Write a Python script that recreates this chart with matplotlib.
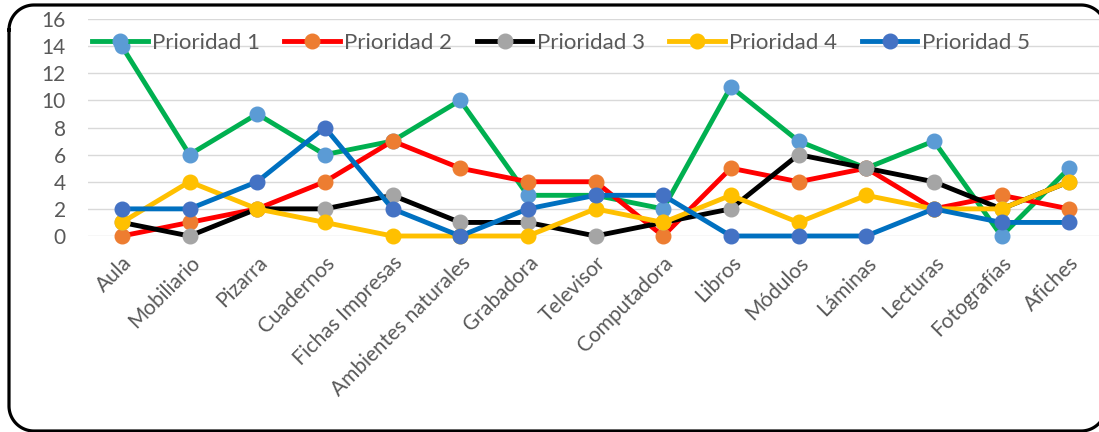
import matplotlib
matplotlib.use("Agg")
import matplotlib.pyplot as plt
import numpy as np

categories = ["Aula", "Mobiliario", "Pizarra", "Cuadernos", "Fichas Impresas",
              "Ambientes naturales", "Grabadora", "Televisor", "Computadora",
              "Libros", "Módulos", "Láminas", "Lecturas", "Fotografías", "Afiches"]
p1 = [14, 6, 9, 6, 7, 10, 3, 3, 2, 11, 7, 5, 7, 0, 5]
p2 = [0, 1, 2, 4, 7, 5, 4, 4, 0, 5, 4, 5, 2, 3, 2]
p3 = [1, 0, 2, 2, 3, 1, 1, 0, 1, 2, 6, 5, 4, 2, 4]
p4 = [1, 4, 2, 1, 0, 0, 0, 2, 1, 3, 1, 3, 2, 2, 4]
p5 = [2, 2, 4, 8, 2, 0, 2, 3, 3, 0, 0, 0, 2, 1, 1]
series_names = ["Prioridad 1", "Prioridad 2", "Prioridad 3", "Prioridad 4", "Prioridad 5"]
yticks = [0, 2, 4, 6, 8, 10, 12, 14, 16]

line_colors = ["#00B050", "#FF0000", "#000000", "#FFC000", "#0070C0"]
marker_colors = ["#5B9BD5", "#ED7D31", "#A5A5A5", "#FFC000", "#4472C4"]

plt.rcParams['font.family'] = ['Lato', 'DejaVu Sans']

W, H = 1099, 432
fig = plt.figure(figsize=(W / 100, H / 100), dpi=100)

x_left, x_right = 88, 1103
y_top, y_bot = 19, 236
ax = fig.add_axes([x_left / W, 1 - y_bot / H, (x_right - x_left) / W, (y_bot - y_top) / H])

xs = list(range(len(categories)))
handles = []
for vals, name, lc, mc in zip([p1, p2, p3, p4, p5], series_names, line_colors, marker_colors):
    h, = ax.plot(xs, vals, color=lc, lw=3.5, marker='o', markersize=10.5,
                 markerfacecolor=mc, markeredgecolor=mc, clip_on=False, zorder=3,
                 label=name)
    handles.append(h)

ax.set_xlim(-0.5, len(categories) - 0.5)
ax.set_ylim(0, 16)
ax.set_yticks(yticks)
ax.set_yticklabels([str(v) for v in yticks], fontsize=15, color="#595959")
ax.set_xticks(xs)
ax.set_xticklabels(categories, rotation=45, ha='right', va='top',
                   rotation_mode='anchor', fontsize=15, color="#595959")
ax.tick_params(axis='both', length=0)
ax.tick_params(axis='y', pad=16)
ax.tick_params(axis='x', pad=12)
ax.grid(axis='y', color="#D9D9D9", lw=1, zorder=0)
ax.set_axisbelow(True)
for s in ax.spines.values():
    s.set_visible(False)
ax.patch.set_alpha(0)

leg = ax.legend(handles=handles, loc='center left',
                bbox_to_anchor=(4 / (x_right - x_left), (236 - 43) / 217),
                ncol=5, frameon=False, fontsize=16, handlelength=2.5,
                handletextpad=0.2, columnspacing=1.1, borderaxespad=0.0,
                borderpad=0.0)
for t in leg.get_texts():
    t.set_color("#595959")

# rounded outer frame, drawn in pixel units on an overlay axes
ov = fig.add_axes([0, 0, 1, 1], zorder=10)
ov.set_xlim(0, W)
ov.set_ylim(H, 0)
ov.axis('off')
ov.patch.set_alpha(0)
fx0, fy0, fx1, fy1, r = 9, 5, 1106, 431, 25


def arc(cx, cy, a0, a1):
    t = np.radians(np.linspace(a0, a1, 30))
    return cx + r * np.cos(t), cy + r * np.sin(t)

segs = [
    arc(fx0 + r, fy0 + r, 180, 270),   # top-left
    arc(fx1 - r, fy0 + r, 270, 360),   # top-right
    arc(fx1 - r, fy1 - r, 0, 90),      # bottom-right
    arc(fx0 + r, fy1 - r, 90, 180),    # bottom-left
]
px = np.concatenate([s[0] for s in segs] + [segs[0][0][:1]])
py = np.concatenate([s[1] for s in segs] + [segs[0][1][:1]])
ov.plot(px, py, color="black", lw=2.3, clip_on=False, solid_joinstyle='round')

fig.savefig("out.png", dpi=100)
